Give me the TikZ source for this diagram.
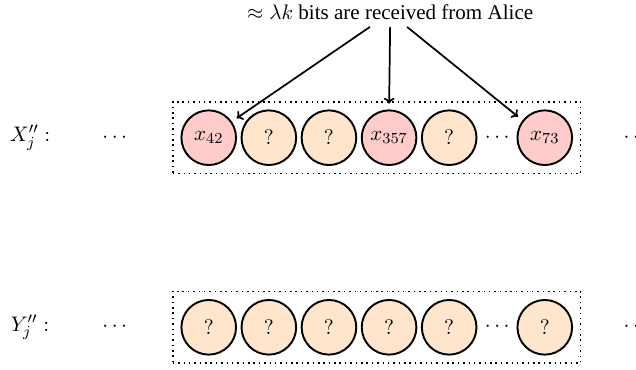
\documentclass[11pt,tikz,border=0pt]{standalone}
\usepackage{fontspec}
\setmainfont{Liberation Serif}
\usetikzlibrary{positioning,fit,arrows.meta}

\begin{document}
\begin{tikzpicture}[
   bit/.style = {circle, draw, line width = 1pt, minimum size = 1cm, inner sep = 0pt},
   known/.style = {bit, fill = red!20},
   unknown/.style = {bit, fill = orange!20},
   gap/.style = {inner sep = 0pt},
   frame/.style = {draw, thick, dotted, inner sep = 0.14cm},
   feed/.style = {-{To[length=3pt, width=5.5pt]}, line width = 0.9pt, shorten > = 3pt}
   ]
   \useasboundingbox (0,0) rectangle (11.64,6.77);
   % row X''
   \node (lx) at (0.55,4.25) {$X_j'':$};
   \node (lxdots) at (2.1,4.25) {$\cdots$};
   \node[known] (x1) at (3.82,4.25) {$x_{42}$};
   \node[unknown, right = 0.065cm of x1] (x2) {$?$};
   \node[unknown, right = 0.065cm of x2] (x3) {$?$};
   \node[known, right = 0.065cm of x3] (x4) {$x_{357}$};
   \node[unknown, right = 0.065cm of x4] (x5) {$?$};
   \node[gap] (xdots) at (9.10,4.25) {$\cdots$};
   \node[known] (x7) at (9.97,4.25) {$x_{73}$};
   \node[frame, fit = (x1) (x7)] (fx) {};
   \node (rxdots) at (11.64,4.25) {$\cdots$};
   % row Y''
   \node (ly) at (0.55,0.78) {$Y_j'':$};
   \node (lydots) at (2.1,0.78) {$\cdots$};
   \node[unknown] (y1) at (3.82,0.78) {$?$};
   \node[unknown, right = 0.065cm of y1] (y2) {$?$};
   \node[unknown, right = 0.065cm of y2] (y3) {$?$};
   \node[unknown, right = 0.065cm of y3] (y4) {$?$};
   \node[unknown, right = 0.065cm of y4] (y5) {$?$};
   \node[gap] (ydots) at (9.10,0.78) {$\cdots$};
   \node[unknown] (y7) at (9.97,0.78) {$?$};
   \node[frame, fit = (y1) (y7)] (fy) {};
   \node (rydots) at (11.64,0.78) {$\cdots$};
   % message from Alice
   \node (msg) at (7.14,6.55) {$\approx \lambda k$ bits are received from Alice};
   \draw[feed] ([xshift=-0.37cm]msg.south) -- (x1.35);
   \draw[feed] (msg.south) -- (x4.north);
   \draw[feed] ([xshift=0.31cm]msg.south) -- (x7.142);
\end{tikzpicture}
\end{document}
